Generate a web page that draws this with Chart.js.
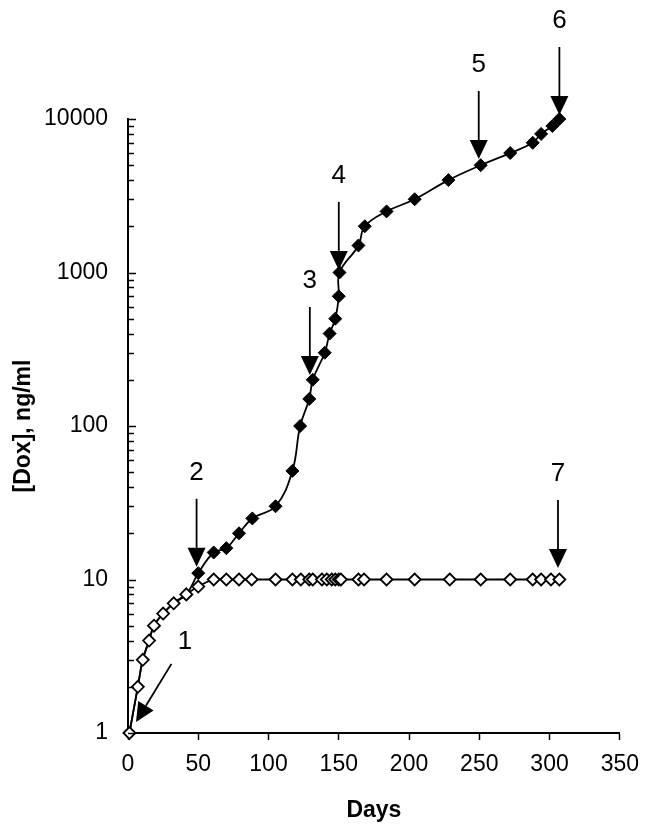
<!DOCTYPE html>
<html><head><meta charset="utf-8">
<script src="https://cdn.jsdelivr.net/npm/chart.js@4/dist/chart.umd.min.js"></script>
<style>html,body{margin:0;padding:0;background:#fff;}#wrap{width:650px;height:828px;position:relative;}</style>
</head><body><div id="wrap"><canvas id="c" width="650" height="828"></canvas></div>
<script>
// ---- data ----
const sensitiveDays = [1, 7, 10.5, 15, 18.5, 25, 32.5, 41.5, 50, 61, 70, 79, 88, 105, 117, 123, 129, 131.5, 138, 141.5, 145, 147.5, 150, 151.5, 164, 168, 184, 204, 229, 251, 272, 288, 294, 301, 307];
const sensitiveDox  = [1, 2, 3, 4, 5, 6, 7, 8, 9, 10, 10, 10, 10, 10, 10, 10, 10, 10, 10, 10, 10, 10, 10, 10, 10, 10, 10, 10, 10, 10, 10, 10, 10, 10, 10];
const resistantDays = [1, 7, 10.5, 15, 18.5, 25, 32.5, 41.5, 50, 61, 70, 79, 88.5, 105, 117, 122.5, 129, 131.5, 140, 143.5, 147.5, 150, 150.5, 164, 168.5, 184, 204, 228, 251, 272, 288, 294, 302, 307];
const resistantDox  = [1, 2, 3, 4, 5, 6, 7, 8, 11, 15, 16, 20, 25, 30, 51, 100, 150, 200, 300, 400, 500, 700, 1000, 1500, 2000, 2500, 3000, 4000, 5000, 6000, 7000, 8000, 9000, 10000];
const sharedPoints = 8; // first resistant points coincide with sensitive ones
const xTicks = [0, 50, 100, 150, 200, 250, 300, 350];
const yTicks = [1, 10, 100, 1000, 10000];
const arrowLabels = ['1', '2', '3', '4', '5', '6', '7'];
const arrowDays   = [5.7, 48.8, 129.4, 150, 249.6, 307, 306];
const arrowDox    = [1.18, 12.1, 215, 1040, 5490, 10620, 11.9];
const arrowDirX   = [-0.521, 0, 0, 0, 0, 0, 0];
const arrowDirY   = [0.854, 1, 1, 1, 1, 1, 1];

const FONT = "'Liberation Sans', Arial, Helvetica, sans-serif";
const sensitive = sensitiveDays.map((d, i) => ({x: d, y: sensitiveDox[i]}));
const resistant = resistantDays.map((d, i) => ({x: d, y: resistantDox[i]}));

const innerTicks = {
  id: 'innerTicks',
  afterDraw(chart) {
    const {ctx, scales: {y}, chartArea} = chart;
    ctx.save();
    ctx.strokeStyle = '#000';
    ctx.lineWidth = 1.5;
    for (let d = 1; d <= 10000; d *= 10) {
      for (let k = 1; k <= 9; k++) {
        const v = d * k;
        if (v > 10000) break;
        const py = Math.round(y.getPixelForValue(v)) + 0.5;
        const len = k === 1 ? 8 : 6;
        ctx.beginPath();
        ctx.moveTo(chartArea.left, py);
        ctx.lineTo(chartArea.left + len, py);
        ctx.stroke();
      }
    }
    ctx.restore();
  }
};

const arrows = {
  id: 'arrows',
  afterDatasetsDraw(chart) {
    const {ctx, scales: {x, y}} = chart;
    const shaft = 68, headLen = 19, headHalf = 9, gap = 26;
    ctx.save();
    ctx.strokeStyle = '#000';
    ctx.fillStyle = '#000';
    ctx.lineWidth = 1.8;
    ctx.font = '26px ' + FONT;
    ctx.textAlign = 'center';
    ctx.textBaseline = 'middle';
    arrowLabels.forEach((lab, i) => {
      const tx = x.getPixelForValue(arrowDays[i]);
      const ty = y.getPixelForValue(arrowDox[i]);
      const dx = arrowDirX[i], dy = arrowDirY[i];
      const sx = tx - dx * shaft, sy = ty - dy * shaft;
      const bx = tx - dx * headLen, by = ty - dy * headLen;
      ctx.beginPath();
      ctx.moveTo(sx, sy);
      ctx.lineTo(bx, by);
      ctx.stroke();
      ctx.beginPath();
      ctx.moveTo(tx, ty);
      ctx.lineTo(bx - dy * headHalf, by + dx * headHalf);
      ctx.lineTo(bx + dy * headHalf, by - dx * headHalf);
      ctx.closePath();
      ctx.fill();
      ctx.fillText(lab, sx - dx * gap, sy - dy * gap);
    });
    ctx.restore();
  }
};

new Chart(document.getElementById('c'), {
  type: 'scatter',
  data: {
    datasets: [
      {
        label: 'sensitive',
        data: sensitive,
        showLine: true,
        borderColor: '#000',
        borderWidth: 1.8,
        tension: 0.4,
        pointStyle: 'rectRot',
        pointRadius: 6,
        pointBorderWidth: 1.8,
        pointBackgroundColor: '#fff',
        pointBorderColor: '#000',
        clip: false
      },
      {
        label: 'resistant',
        data: resistant,
        showLine: true,
        borderColor: '#000',
        borderWidth: 1.8,
        tension: 0.4,
        pointStyle: 'rectRot',
        pointRadius: c => c.dataIndex < sharedPoints ? 0 : 6.5,
        pointBorderWidth: 1,
        pointBackgroundColor: '#000',
        pointBorderColor: '#000',
        clip: false
      }
    ]
  },
  options: {
    responsive: false,
    animation: false,
    devicePixelRatio: 1,
    layout: {padding: {left: 6, top: 119, right: 27, bottom: 0}},
    plugins: {legend: {display: false}, tooltip: {enabled: false}},
    events: [],
    scales: {
      x: {
        type: 'linear',
        min: 0, max: 350,
        afterBuildTicks: s => { s.ticks = xTicks.map(v => ({value: v})); },
        afterFit: s => { s.height = 95; },
        grid: {display: true, drawOnChartArea: false, drawTicks: true, tickLength: 7, tickWidth: 1.5, tickColor: '#000'},
        border: {display: true, color: '#000', width: 2},
        ticks: {color: '#000', font: {family: FONT, size: 23}, padding: 11, maxRotation: 0, autoSkip: false},
        title: {display: true, text: 'Days', color: '#000', font: {family: FONT, size: 23, weight: 'bold'}, padding: {top: 0, bottom: 4}}
      },
      y: {
        type: 'logarithmic',
        min: 1, max: 10000,
        afterBuildTicks: s => { s.ticks = yTicks.map(v => ({value: v})); },
        afterFit: s => { s.width = 122; },
        grid: {display: true, drawOnChartArea: false, drawTicks: false},
        border: {display: true, color: '#000', width: 2},
        ticks: {color: '#000', font: {family: FONT, size: 23}, padding: 20, autoSkip: false, callback: v => String(v)},
        title: {display: true, text: '[Dox], ng/ml', color: '#000', font: {family: FONT, size: 23, weight: 'bold'}, padding: {top: 4, bottom: 0}}
      }
    }
  },
  plugins: [innerTicks, arrows]
});
</script>
</body></html>
